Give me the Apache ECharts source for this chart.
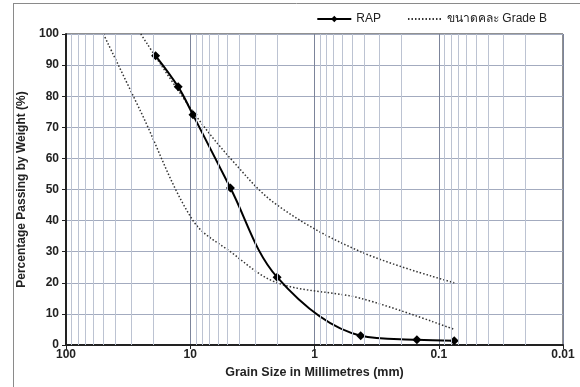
<!DOCTYPE html>
<html>
<head>
<meta charset="utf-8">
<script src="https://cdn.jsdelivr.net/npm/echarts@6/dist/echarts.min.js"></script>
<style>
  html, body { margin: 0; padding: 0; background: #fff; }
  #chart { width: 580px; height: 387px; }
</style>
</head>
<body>
<div id="chart"></div>
<script>
// sieve sizes (mm) and percent passing
var rapSize = [19, 12.5, 9.5, 4.75, 2.0, 0.425, 0.15, 0.075];
var rapPass = [93, 83, 74, 50.5, 21.8, 3.0, 1.7, 1.4];

var upperSize = [25, 9.5, 4.75, 2.0, 0.425, 0.075];
var upperPass = [100, 75, 60, 45, 30, 20];

var lowerSize = [50, 25, 9.5, 4.75, 2.0, 0.425, 0.075];
var lowerPass = [100, 75, 40, 30, 20, 15, 5];

// minor vertical grid lines (2..9 in each decade)
var minorLines = [
    20, 30, 40, 50, 60, 70, 80, 90,
    2, 3, 4, 5, 6, 7, 8, 9,
    0.2, 0.3, 0.4, 0.5, 0.6, 0.7, 0.8, 0.9,
    0.02, 0.03, 0.04, 0.05, 0.06, 0.07, 0.08, 0.09
];

var yTicks = { min: 0, max: 100, interval: 10 };

var font = 'Liberation Sans, Arial, Noto Sans, sans-serif';

function pairs(xs, ys) {
    return xs.map(function (x, i) { return [x, ys[i]]; });
}

var chart = echarts.init(document.getElementById('chart'), null, { renderer: 'canvas' });

var option = {
    animation: false,
    backgroundColor: '#fff',
    textStyle: { fontFamily: font },
    graphic: [
        { type: 'line', shape: { x1: 13, y1: 3.5, x2: 580, y2: 3.5 }, style: { stroke: '#8a8a8a', lineWidth: 1 } },
        { type: 'line', shape: { x1: 13.5, y1: 3, x2: 13.5, y2: 387 }, style: { stroke: '#8a8a8a', lineWidth: 1 } }
    ],
    legend: {
        data: [
            { name: 'RAP' },
            { name: 'ขนาดคละ Grade B', itemStyle: { opacity: 0 } }
        ],
        top: 8,
        right: 28,
        itemWidth: 34,
        itemHeight: 8,
        itemGap: 26,
        textStyle: { fontFamily: font, fontSize: 12, color: '#222' }
    },
    grid: {
        left: 66,
        right: 17,
        top: 34,
        bottom: 42,
        show: true,
        borderColor: '#222',
        borderWidth: 1
    },
    xAxis: {
        type: 'log',
        logBase: 10,
        min: 0.01,
        max: 100,
        inverse: true,
        splitNumber: 4,
        name: 'Grain Size in Millimetres (mm)',
        nameLocation: 'middle',
        nameGap: 21,
        nameTextStyle: { fontFamily: font, fontWeight: 'bold', fontSize: 12.5, color: '#222' },
        axisLine: { lineStyle: { color: '#222', width: 2 } },
        axisTick: { show: true, length: 4, lineStyle: { color: '#222' } },
        axisLabel: {
            fontFamily: font, fontWeight: 'bold', fontSize: 12, color: '#222', margin: 4,
            formatter: function (v) { return String(+v.toPrecision(6)); }
        },
        splitLine: { show: true, lineStyle: { color: '#7c849a', width: 1 } }
    },
    yAxis: {
        type: 'value',
        min: yTicks.min,
        max: yTicks.max,
        interval: yTicks.interval,
        name: 'Percentage Passing by Weight (%)',
        nameLocation: 'middle',
        nameGap: 36,
        nameTextStyle: { fontFamily: font, fontWeight: 'bold', fontSize: 12, color: '#222' },
        axisLine: { show: true, lineStyle: { color: '#222', width: 2 } },
        axisTick: { show: true, length: 4, lineStyle: { color: '#222' } },
        axisLabel: { fontFamily: font, fontWeight: 'bold', fontSize: 12, color: '#222', margin: 7 },
        splitLine: { show: true, lineStyle: { color: '#a3abbf', width: 1 } }
    },
    series: [
        {
            name: 'grid',
            type: 'line',
            data: [],
            z: 1,
            silent: true,
            markLine: {
                silent: true,
                symbol: ['none', 'none'],
                label: { show: false },
                lineStyle: { color: '#bcc3d2', width: 1, type: 'solid' },
                emphasis: { disabled: true },
                data: minorLines.map(function (v) { return { xAxis: v }; })
            }
        },
        {
            name: 'ขนาดคละ Grade B',
            type: 'line',
            data: pairs(upperSize, upperPass),
            smooth: 0.35,
            showSymbol: false,
            symbol: 'none',
            z: 3,
            lineStyle: { color: '#333', width: 1.5, type: [1.5, 2] },
            itemStyle: { color: '#333' }
        },
        {
            name: 'ขนาดคละ Grade B',
            type: 'line',
            data: pairs(lowerSize, lowerPass),
            smooth: 0.35,
            showSymbol: false,
            symbol: 'none',
            z: 3,
            lineStyle: { color: '#333', width: 1.5, type: [1.5, 2] },
            itemStyle: { color: '#333' }
        },
        {
            name: 'RAP',
            type: 'line',
            data: pairs(rapSize, rapPass),
            smooth: 0.35,
            symbol: 'diamond',
            symbolSize: 9,
            z: 4,
            lineStyle: { color: '#000', width: 2 },
            itemStyle: { color: '#000' }
        }
    ]
};

chart.setOption(option);
</script>
</body>
</html>
